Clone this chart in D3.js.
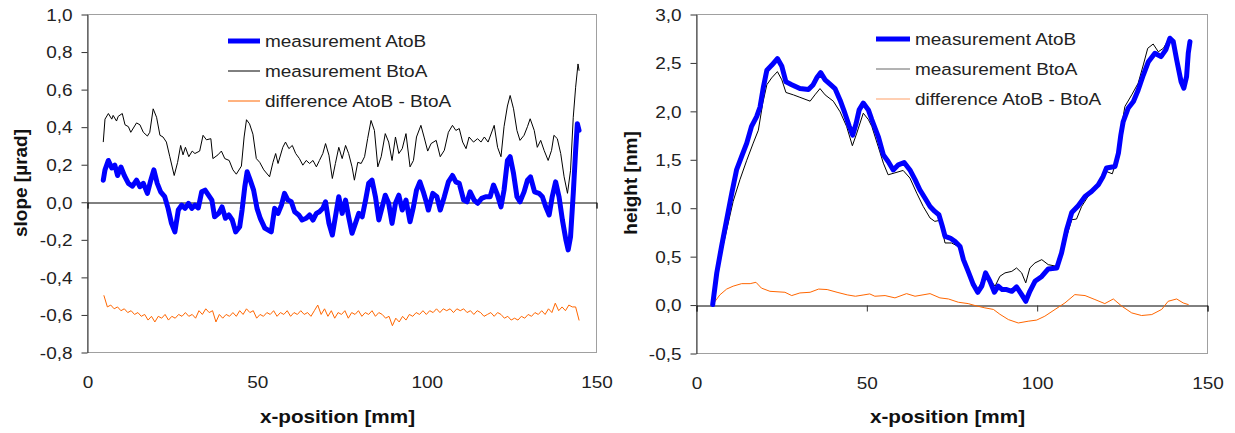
<!DOCTYPE html>
<html lang="en">
<head>
<meta charset="UTF-8">
<title>slope and height profiles</title>
<script src="https://d3js.org/d3.v7.min.js"></script>
<style>
  body { margin: 0; background: #fff; }
  svg { display: block; font-family: "Liberation Sans", Arial, sans-serif; }
  .tick text, .lbl { fill: #222; }
  .title { font-weight: bold; fill: #111; }
</style>
</head>
<body>
<svg id="chart" width="1235" height="433"></svg>
<script>
// ---- data, [x-position mm, value] ----
const slopeAtoB = [[4.8,0.115],[5.3,0.17],[6.3,0.22],[7.3,0.18],[8.2,0.195],[9,0.14],[10,0.185],[11,0.14],[12.2,0.098],[13.4,0.083],[14.6,0.115],[15.6,0.08],[16.6,0.098],[17.8,0.045],[18.8,0.115],[19.7,0.17],[20.7,0.098],[21.7,0.053],[22.9,0.027],[23.9,-0.035],[24.9,-0.115],[25.9,-0.16],[26.9,-0.044],[27.9,-0.018],[28.9,-0.035],[29.9,-0.008],[30.9,-0.035],[31.8,-0.018],[32.8,-0.033],[33.8,0.053],[34.8,0.062],[35.8,0.035],[36.8,0.009],[37.6,-0.08],[38.8,-0.062],[39.8,-0.027],[40.8,-0.088],[41.8,-0.07],[42.8,-0.097],[43.8,-0.16],[45,-0.133],[45.7,-0.044],[46.5,0.08],[47.2,0.16],[48.1,0.115],[49.1,0.062],[50.1,-0.035],[51.1,-0.09],[52.4,-0.14],[54.3,-0.16],[55.3,-0.035],[56.3,-0.062],[57.3,-0.018],[58.2,0.045],[59.2,0.009],[60.2,0],[61.2,-0.053],[62.4,-0.07],[63.4,-0.097],[64.6,-0.088],[65.6,-0.07],[66.6,-0.097],[67.6,-0.062],[68.5,-0.053],[69.5,-0.035],[70.3,0],[71.3,-0.115],[72.3,-0.177],[73.2,-0.08],[74.2,0.027],[75.2,-0.062],[76.2,0.009],[77.1,-0.08],[78.1,-0.168],[79.1,-0.115],[80.1,-0.062],[81.1,-0.08],[82.1,0.009],[83,0.098],[84,0.115],[85,0.027],[86,-0.097],[87,-0.027],[87.9,0.035],[88.9,-0.008],[89.9,-0.115],[90.9,-0.008],[91.9,0.035],[92.9,-0.044],[94,0.009],[95.2,-0.106],[96.2,-0.027],[97.1,0.062],[98.1,0.106],[99.1,0.053],[100.1,-0.008],[100.6,-0.044],[101.9,0.045],[103.1,0.027],[104.1,-0.044],[105.3,0.027],[106.5,0.106],[107.7,0.14],[108.7,0.106],[109.7,0.098],[111,0.009],[112,0],[112.9,0.053],[114.1,0.009],[115.1,-0.008],[116.3,0.018],[117.5,0.027],[118.8,0.027],[119.8,0.089],[120.8,0.045],[122,-0.027],[122.9,0.062],[123.9,0.22],[124.7,0.24],[125.7,0.15],[126.7,0.027],[127.6,0],[128.8,0.053],[129.8,0.115],[130.7,0.133],[131.9,0.053],[133.2,0.045],[134.2,0.027],[135.2,-0.027],[136.2,-0.07],[137.1,0.027],[138.1,0.106],[139.1,0.027],[140.1,-0.097],[141.1,-0.2],[141.8,-0.256],[142.5,-0.186],[143.3,0.045],[144,0.274],[144.5,0.416],[145,0.38]];

const slopeBtoA = [[4.8,0.32],[5.3,0.44],[6.3,0.47],[7.3,0.44],[7.7,0.46],[8.7,0.43],[9.2,0.455],[10.4,0.47],[11.2,0.41],[12.2,0.4],[12.9,0.37],[14.6,0.42],[15.6,0.41],[16.6,0.37],[17.8,0.35],[18.5,0.37],[19.5,0.495],[20.5,0.45],[21.5,0.354],[22.4,0.345],[23.4,0.318],[24.4,0.24],[25.7,0.14],[26.7,0.21],[27.6,0.3],[28.3,0.25],[29,0.29],[30,0.24],[31,0.27],[31.8,0.257],[33.2,0.27],[34.2,0.354],[35.2,0.33],[36.5,0.336],[37.1,0.23],[38.6,0.25],[39.6,0.27],[40.6,0.23],[41.9,0.22],[43,0.17],[44,0.147],[45.5,0.19],[46.3,0.345],[47,0.437],[47.9,0.415],[48.9,0.36],[49.9,0.23],[50.9,0.21],[52.1,0.17],[53.8,0.133],[54.8,0.21],[55.6,0.257],[56.3,0.204],[57.7,0.29],[58.5,0.318],[59.5,0.283],[60.5,0.3],[61.5,0.257],[62.6,0.23],[63.6,0.195],[64.6,0.22],[65.6,0.204],[66.6,0.22],[67.6,0.186],[68.5,0.22],[69.5,0.257],[70.3,0.31],[71.3,0.248],[72.3,0.124],[73.2,0.204],[74.2,0.29],[75.2,0.23],[76.2,0.3],[77.1,0.257],[78.1,0.186],[78.8,0.115],[79.8,0.21],[80.8,0.204],[81.8,0.24],[82.7,0.336],[83.7,0.433],[84.7,0.38],[85.7,0.186],[86.7,0.24],[87.9,0.363],[88.9,0.318],[89.9,0.22],[90.9,0.345],[91.9,0.257],[92.9,0.283],[94,0.363],[95.2,0.186],[96.2,0.22],[97.1,0.345],[98.4,0.407],[99.4,0.34],[100.4,0.27],[101.4,0.31],[102.9,0.327],[104.1,0.24],[105.3,0.274],[106.5,0.37],[107.7,0.407],[108.7,0.38],[109.7,0.39],[110.7,0.318],[111.7,0.283],[112.6,0.345],[113.9,0.318],[115.1,0.336],[116.1,0.318],[117.1,0.345],[118.2,0.318],[120,0.407],[121,0.29],[122,0.24],[122.9,0.4],[123.9,0.51],[124.7,0.566],[125.7,0.495],[126.7,0.38],[127.6,0.327],[128.8,0.354],[129.8,0.4],[130.6,0.442],[131.8,0.38],[132.7,0.29],[133.7,0.327],[134.7,0.274],[135.9,0.22],[136.9,0.274],[137.6,0.354],[138.6,0.336],[139.6,0.257],[140.6,0.133],[141.6,0.045],[142.5,0.168],[143.3,0.45],[144,0.61],[144.7,0.734],[145,0.7]];

// difference, one value per mm from 5 to 145
const slopeDiffStart = 5;
const slopeDiff = [-0.50,-0.56,-0.55,-0.57,-0.56,-0.58,-0.57,-0.59,-0.58,-0.60,-0.59,-0.61,-0.60,-0.63,-0.61,-0.64,-0.61,-0.62,-0.60,-0.63,
  -0.61,-0.62,-0.60,-0.61,-0.59,-0.61,-0.60,-0.62,-0.58,-0.60,-0.57,-0.59,-0.58,-0.64,-0.60,-0.62,-0.60,-0.61,-0.59,-0.61,
  -0.58,-0.60,-0.57,-0.59,-0.58,-0.62,-0.60,-0.61,-0.59,-0.60,-0.58,-0.61,-0.59,-0.60,-0.58,-0.61,-0.59,-0.60,-0.58,-0.60,
  -0.59,-0.61,-0.58,-0.55,-0.60,-0.57,-0.61,-0.58,-0.62,-0.59,-0.60,-0.58,-0.62,-0.59,-0.60,-0.58,-0.61,-0.59,-0.60,-0.58,
  -0.61,-0.59,-0.60,-0.62,-0.61,-0.66,-0.62,-0.64,-0.61,-0.63,-0.60,-0.61,-0.59,-0.60,-0.58,-0.60,-0.58,-0.59,-0.57,-0.59,
  -0.57,-0.58,-0.57,-0.59,-0.57,-0.58,-0.57,-0.59,-0.58,-0.60,-0.58,-0.59,-0.61,-0.60,-0.59,-0.61,-0.59,-0.60,-0.62,-0.61,
  -0.63,-0.62,-0.63,-0.61,-0.62,-0.60,-0.61,-0.59,-0.60,-0.58,-0.60,-0.57,-0.59,-0.54,-0.58,-0.56,-0.58,-0.55,-0.56,-0.56,-0.63];

const heightAtoB = [[4.9,0],[6.1,0.327],[7.5,0.6],[9,0.876],[10.5,1.15],[11.9,1.39],[13.4,1.53],[14.9,1.667],[16.3,1.84],[17.8,1.94],[18.8,2.04],[19.8,2.25],[20.8,2.42],[22.2,2.47],[23.9,2.54],[25.2,2.46],[26.4,2.3],[28.1,2.27],[30.5,2.23],[33,2.22],[34.4,2.27],[35.6,2.35],[36.6,2.395],[37.9,2.32],[39.5,2.27],[40.8,2.23],[42.3,2.11],[43.7,1.976],[45,1.84],[46,1.75],[47,1.87],[47.9,2.01],[49.1,2.08],[50.6,2.01],[51.6,1.91],[53.5,1.735],[55,1.546],[56.4,1.477],[57.9,1.39],[59.4,1.443],[61.1,1.467],[62.8,1.39],[64.3,1.29],[65.7,1.186],[67.2,1.1],[68.7,1.013],[70.1,0.962],[71.3,0.928],[72.3,0.81],[73.1,0.705],[74.6,0.687],[76,0.653],[77.5,0.6],[78.5,0.464],[79.9,0.343],[81.4,0.206],[82.7,0.127],[83.9,0.19],[85,0.327],[86.3,0.24],[87.6,0.127],[88.7,0.19],[89.9,0.155],[91.2,0.155],[92.7,0.137],[94.1,0.182],[95.6,0.103],[96.8,0.034],[98,0.137],[99.5,0.24],[101.5,0.29],[103.4,0.368],[105.9,0.378],[107.3,0.533],[108.8,0.773],[110.3,0.95],[112.2,1.02],[114.2,1.117],[116.1,1.168],[118.1,1.237],[119.5,1.323],[120.5,1.41],[123,1.426],[124,1.564],[124.7,1.75],[125.4,1.89],[126.9,2.03],[128.4,2.096],[129.8,2.216],[131.3,2.37],[132.8,2.508],[134.7,2.595],[136.5,2.56],[137.9,2.63],[139.1,2.75],[140.1,2.715],[141.1,2.526],[142.4,2.3],[143.2,2.234],[144,2.354],[144.5,2.595],[145,2.715]];

const heightBtoA = [[4.9,0],[7,0.464],[9,0.77],[10.9,1.065],[12.9,1.29],[14.9,1.49],[16.8,1.667],[18.3,1.8],[19.6,2.08],[20.8,2.27],[22.2,2.34],[23.9,2.405],[25.2,2.32],[26.4,2.19],[28.6,2.165],[30.5,2.14],[33.5,2.1],[34.9,2.165],[36.4,2.23],[37.9,2.165],[40.3,2.1],[42.3,1.99],[44.2,1.84],[45.9,1.64],[47.2,1.77],[49.1,1.976],[50.6,1.91],[51.6,1.84],[53.5,1.63],[55,1.46],[56.4,1.34],[58.4,1.36],[60.8,1.385],[62.8,1.306],[64.8,1.15],[66.7,1.013],[68.7,0.894],[70.1,0.859],[71.6,0.87],[73.1,0.636],[75,0.636],[77,0.6],[79,0.395],[80.9,0.275],[82.7,0.155],[83.9,0.24],[85,0.343],[86.3,0.258],[87.8,0.19],[89.2,0.292],[90.7,0.327],[92.7,0.343],[94.1,0.378],[95.6,0.327],[96.8,0.224],[98,0.378],[99.5,0.43],[101.5,0.464],[103.4,0.412],[105.9,0.395],[107.3,0.533],[108.8,0.704],[110.3,0.876],[111.7,0.883],[113.2,1.013],[115.1,1.117],[117.1,1.186],[119.1,1.27],[120.5,1.374],[122.2,1.35],[123.5,1.495],[124.7,1.8],[125.9,2.045],[127.9,2.165],[129.8,2.286],[131.3,2.474],[132.6,2.646],[134.2,2.69],[135.7,2.61],[137.2,2.646],[138.6,2.73],[140.1,2.7],[141.1,2.49],[142.4,2.268],[143.2,2.216],[144,2.39],[144.5,2.63],[145,2.7]];

const heightDiff = [[4.9,0],[7,0.1],[9,0.16],[10.9,0.19],[13.4,0.216],[15.9,0.216],[17.6,0.23],[19.2,0.17],[21.7,0.137],[26.1,0.127],[28.1,0.093],[30.5,0.12],[33.5,0.127],[36,0.16],[38.5,0.155],[41.4,0.127],[44.4,0.1],[46.8,0.086],[49.3,0.1],[51,0.11],[52.5,0.086],[55.5,0.093],[58.4,0.069],[61.8,0.113],[64.3,0.086],[68.7,0.113],[71.6,0.069],[74.1,0.058],[77,0.024],[79.9,0.01],[81.9,-0.01],[84.8,-0.034],[87.3,-0.05],[89.2,-0.1],[91.7,-0.155],[94.6,-0.19],[97.5,-0.172],[100,-0.16],[102.4,-0.12],[105.4,-0.05],[108.3,0.017],[111.2,0.103],[114.2,0.093],[117.1,0.052],[120,0.01],[122.5,0.058],[125,-0.017],[127.9,-0.086],[130.8,-0.113],[133.8,-0.103],[136.7,-0.05],[138.6,0.034],[141.1,0.058],[143,0.017],[144.5,0]];

const seriesNames = ["measurement AtoB", "measurement BtoA", "difference AtoB - BtoA"];
const xTicks = [0, 50, 100, 150];
const slopeTicks = [-0.8, -0.6, -0.4, -0.2, 0, 0.2, 0.4, 0.6, 0.8, 1.0];
const heightTicks = [-0.5, 0, 0.5, 1.0, 1.5, 2.0, 2.5, 3.0];

// ---- drawing ----
const SX = 1.15;      // glyphs in the picture are a bit wide
const FS = 16.5;
const svg = d3.select("#chart");
const loc = d3.formatLocale({decimal: ",", thousands: ".", grouping: [3], currency: ["", ""], minus: "-"});
const fmt = loc.format(".1f");
const styles = [
  {color: "#0000ff", width: 5},
  {color: "#000000", width: 1},
  {color: "#ff6600", width: 1}
];

function panel(opt) {
  const x = d3.scaleLinear().domain([0, 150]).range([opt.left, opt.right]);
  const y = d3.scaleLinear().domain(opt.yDomain).range([opt.bottom, opt.top]);
  const g = svg.append("g");

  // plot frame
  g.append("rect")
    .attr("x", opt.left + 0.5).attr("y", opt.top + 0.5)
    .attr("width", opt.right - opt.left).attr("height", opt.bottom - opt.top)
    .attr("fill", "none").attr("stroke", "#a0a0a0");

  // y axis
  const ya = g.append("g")
    .attr("transform", `translate(${opt.left + 0.5},0.5)`)
    .call(d3.axisLeft(y).tickValues(opt.yTicks).tickFormat(fmt).tickSize(6).tickSizeOuter(0).tickPadding(9));
  ya.select(".domain").attr("stroke", "#333");
  ya.selectAll(".tick line").attr("stroke", "#333");
  ya.selectAll(".tick text")
    .attr("x", -15 / SX).attr("dy", "0.35em")
    .attr("transform", `scale(${SX},1)`)
    .style("font-size", FS + "px").style("font-family", "inherit");

  // x axis line at zero with ticks below
  const za = g.append("g")
    .attr("transform", `translate(0.5,${Math.round(y(0)) + 0.5})`)
    .call(d3.axisBottom(x).tickValues(xTicks).tickFormat("").tickSize(6).tickSizeOuter(6));
  za.select(".domain").attr("stroke", "#000");
  za.selectAll(".tick line").attr("stroke", "#333");

  // x labels below the frame
  const xa = g.append("g")
    .attr("transform", `translate(0.5,${opt.bottom})`)
    .call(d3.axisBottom(x).tickValues(xTicks).tickFormat(d3.format("d")).tickSize(0).tickPadding(24));
  xa.select(".domain").remove();
  xa.selectAll(".tick text")
    .attr("transform", `scale(${SX},1)`)
    .each(function () { const t = d3.select(this.parentNode).attr("transform"); })
    .style("font-size", FS + "px").style("font-family", "inherit");

  // curves
  const line = d3.line().x(d => x(d[0])).y(d => y(d[1]));
  const clip = "clip" + opt.id;
  svg.append("clipPath").attr("id", clip).append("rect")
    .attr("x", opt.left).attr("y", opt.top).attr("width", opt.right - opt.left).attr("height", opt.bottom - opt.top);
  const cg = g.append("g").attr("clip-path", `url(#${clip})`);
  [2, 1, 0].forEach(i => {
    cg.append("path").datum(opt.series[i])
      .attr("fill", "none")
      .attr("stroke", styles[i].color)
      .attr("stroke-width", styles[i].width)
      .attr("stroke-linejoin", "round").attr("stroke-linecap", "round")
      .attr("d", line);
  });

  // legend
  seriesNames.forEach((name, i) => {
    const yy = opt.legY + i * 30;
    g.append("line")
      .attr("x1", opt.legX).attr("x2", opt.legX + opt.legLen)
      .attr("y1", yy).attr("y2", yy)
      .attr("stroke", opt.legColors[i]).attr("stroke-width", styles[i].width);
    g.append("text").attr("class", "lbl")
      .attr("transform", `translate(${opt.legX + opt.legLen + 5},${yy + 6}) scale(${SX},1)`)
      .style("font-size", FS + "px")
      .text(name);
  });

  // axis titles
  g.append("text").attr("class", "title")
    .attr("text-anchor", "middle")
    .attr("transform", `translate(${(opt.left + opt.right) / 2 - 4},${423}) scale(${SX},1)`)
    .style("font-size", "18px")
    .text("x-position [mm]");
  g.append("text").attr("class", "title")
    .attr("text-anchor", "middle")
    .attr("transform", `translate(${opt.yTitleX},${opt.yTitleY}) rotate(-90)`)
    .style("font-size", "19px")
    .text(opt.yTitle);
}

const slopeDiffPts = slopeDiff.map((v, i) => [slopeDiffStart + i, v]);

panel({
  id: "L", left: 87, right: 596, top: 14, bottom: 352,
  yDomain: [-0.8, 1.0], yTicks: slopeTicks,
  series: [slopeAtoB, slopeBtoA, slopeDiffPts],
  legX: 228, legLen: 32, legY: 41,
  legColors: ["#0000ff", "#000000", "#ff6600"],
  yTitle: "slope [µrad]", yTitleX: 27, yTitleY: 183
});

panel({
  id: "R", left: 696, right: 1207, top: 14, bottom: 353,
  yDomain: [-0.5, 3.0], yTicks: heightTicks,
  series: [heightAtoB, heightBtoA, heightDiff],
  legX: 876, legLen: 34, legY: 39,
  legColors: ["#0000ff", "#666666", "#ff9f66"],
  yTitle: "height [nm]", yTitleX: 637, yTitleY: 183
});
</script>
</body>
</html>
